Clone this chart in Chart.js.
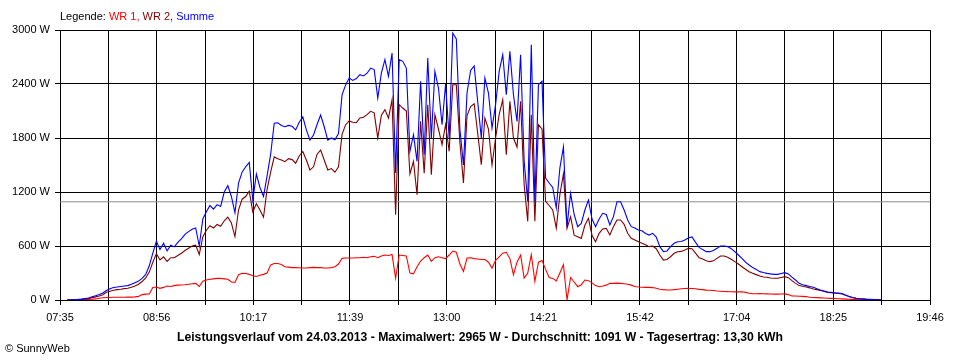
<!DOCTYPE html>
<html>
<head>
<meta charset="utf-8">
<script src="https://cdn.jsdelivr.net/npm/chart.js@4/dist/chart.umd.min.js"></script>
<style>
html,body{margin:0;padding:0;background:#fff;}
#wrap{position:relative;width:960px;height:360px;font-family:"Liberation Sans",Arial,sans-serif;color:#000;}
#c{position:absolute;left:0;top:0;}
.txt{position:absolute;font-size:11px;line-height:13px;white-space:nowrap;}
#legend{left:60px;top:10px;}
#title{left:0;width:960px;top:330px;text-align:center;font-weight:bold;font-size:12.2px;line-height:14px;}
#copy{left:5px;top:342px;}
</style>
</head>
<body>
<div id="wrap">
<canvas id="c" width="960" height="360"></canvas>
<div id="legend" class="txt">Legende: <span style="color:#ff0000">WR 1,</span> <span style="color:#800000">WR 2,</span> <span style="color:#0000ff">Summe</span></div>
<div id="title" class="txt">Leistungsverlauf vom 24.03.2013 - Maximalwert: 2965 W - Durchschnitt: 1091 W - Tagesertrag: 13,30 kWh</div>
<div id="copy" class="txt">© SunnyWeb</div>
</div>
<script>
// ---- data ----
const xTickLabels = ['07:35','08:56','10:17','11:39','13:00','14:21','15:42','17:04','18:25','19:46'];
const yTickValues = [0, 600, 1200, 1800, 2400, 3000];
const sampleStart = '07:41';
const sampleStepMinutes = 3;
const averageValue = 1091;

const summe = [
0,3,5,
7,10,15,22,35,48,60,78,105,125,
138,145,150,155,160,175,193,210,240,285,
380,520,655,560,630,545,610,590,640,680,
730,760,785,800,600,900,980,1050,1010,1060,
1040,1200,1270,1150,970,1300,1420,1480,1530,1110,
1400,1250,1150,1380,1620,1965,1970,1940,1925,1940,
1930,1890,1975,2036,1890,1777,1833,1950,2055,1925,
1777,1800,1780,1850,2280,2390,2466,2440,2460,2503,
2490,2520,2577,2560,2244,2520,2670,2485,2744,1410,
2670,2652,2577,1650,1837,1540,2430,1615,2688,1800,
2540,2355,1948,2400,1800,2966,2900,1900,1500,2300,
2550,2600,2200,1800,2466,2300,1910,2170,2540,2726,
2281,2763,2281,1985,2726,1540,1096,2837,1096,2392,
2430,1355,1300,1250,1022,1466,1700,815,1185,950,
815,850,1000,1111,900,815,900,963,950,833,
926,1092,1092,1000,889,815,800,778,770,740,
722,741,700,593,537,545,593,630,648,650,
667,690,700,640,585,560,537,537,550,574,
600,600,593,570,537,500,463,420,389,360,
340,315,305,296,290,285,285,295,304,290,
255,222,185,170,160,150,141,125,111,100,
89,85,80,76,72,55,40,27,20,15,
12,8,7,6,5,0
];

const wr2 = [
0,2,4,
5,8,12,17,26,35,44,58,85,98,
108,115,120,126,130,142,156,175,205,245,
310,420,515,445,480,430,470,470,495,520,
550,575,600,610,505,700,775,825,800,840,
820,880,920,855,705,1000,1120,1150,1210,980,
1070,1000,920,1230,1420,1590,1570,1555,1537,1570,
1560,1520,1600,1650,1555,1444,1480,1620,1666,1555,
1444,1460,1420,1480,1840,1948,1990,1975,1970,2022,
2030,2060,2096,2080,1800,2050,2115,2022,2226,948,
2170,2133,2100,1400,1540,1170,1985,1410,2170,1393,
2059,1900,1726,1950,1652,2392,2392,1750,1300,2050,
2150,2180,1850,1504,2022,1900,1500,1800,2059,2226,
1615,2207,1800,1700,2207,1281,874,2059,874,1948,
1900,1096,1050,1000,800,1170,1400,796,926,720,
704,685,830,907,720,648,740,790,796,722,
815,889,889,840,741,685,667,648,630,615,
593,600,570,500,444,450,481,519,537,540,
556,574,570,520,470,455,437,426,435,463,
489,489,475,452,426,400,370,341,315,296,
282,267,255,252,245,241,241,250,259,248,
215,185,160,152,145,135,122,115,105,95,
85,80,76,72,68,52,38,25,18,13,
10,7,6,5,3,0
];

const wr1 = [
0,0,0,
3,4,5,7,8,12,20,25,28,28,
30,30,30,30,32,32,35,40,60,65,
67,140,145,130,140,155,150,160,165,167,
170,175,180,185,150,210,222,230,235,240,
240,235,230,200,195,280,296,295,285,270,
262,275,285,300,390,405,405,395,370,365,
360,360,358,355,355,360,362,360,360,355,
355,360,370,400,463,466,466,466,470,470,
475,470,480,485,470,490,500,495,505,244,
500,495,490,300,290,370,433,470,500,430,
470,480,470,460,500,544,530,400,318,466,
470,460,455,450,450,420,355,440,480,520,
530,460,281,420,500,244,300,503,207,420,
440,340,250,240,211,300,392,0,250,200,
148,170,222,215,190,160,148,155,165,185,
185,188,185,180,175,165,150,145,141,140,
140,138,130,120,115,112,111,115,120,125,
128,130,128,125,118,115,110,108,105,100,
98,95,93,92,90,90,92,85,75,70,
70,72,70,68,66,65,65,66,68,60,
45,44,42,40,38,30,28,26,24,22,
20,18,16,14,12,10,8,6,5,3,
0,0,0,0,0,0
];

// ---- helpers ----
function toMin(s){const p=s.split(':');return (+p[0])*60+(+p[1]);}
const xMin = toMin(xTickLabels[0]);
const xMax = toMin(xTickLabels[xTickLabels.length-1]);
const t0 = toMin(sampleStart);
function series(arr){return arr.map((v,i)=>({x:t0+i*sampleStepMinutes,y:v}));}

const FONT = {family:'"Liberation Sans", Arial, sans-serif', size:11};

new Chart(document.getElementById('c'), {
  type:'line',
  data:{
    datasets:[
      {label:'Summe', data:series(summe), borderColor:'#0000ff', borderWidth:1.1, pointRadius:0, fill:false, tension:0},
      {label:'WR 2', data:series(wr2), borderColor:'#800000', borderWidth:1.1, pointRadius:0, fill:false, tension:0},
      {label:'WR 1', data:series(wr1), borderColor:'#ff0000', borderWidth:1.1, pointRadius:0, fill:false, tension:0},
      {label:'Durchschnitt', data:[{x:xMin,y:averageValue},{x:xMax,y:averageValue}], borderColor:'#8c8c8c', borderWidth:1, pointRadius:0, fill:false}
    ]
  },
  options:{
    responsive:false,
    animation:false,
    events:[],
    layout:{padding:{top:30,right:30,left:0,bottom:0}},
    plugins:{legend:{display:false}, tooltip:{enabled:false}, title:{display:false}},
    scales:{
      x:{
        type:'linear', min:xMin, max:xMax,
        afterBuildTicks:(s)=>{
          const n=(xTickLabels.length-1)*2;
          const t=[];
          for(let i=0;i<=n;i++){t.push({value:xMin+(xMax-xMin)*i/n});}
          s.ticks=t;
        },
        afterFit:(s)=>{s.height=60;},
        grid:{color:'#000', lineWidth:1, tickLength:5, drawTicks:true},
        border:{color:'#000', width:1},
        ticks:{autoSkip:false, maxRotation:0, minRotation:0, color:'#000', font:FONT, padding:6,
          callback:(v,i)=> (i%2===0 ? xTickLabels[i/2] : '')}
      },
      y:{
        min:0, max:3000,
        afterBuildTicks:(s)=>{s.ticks=yTickValues.map(v=>({value:v}));},
        afterFit:(s)=>{s.width=60;},
        grid:{color:'#000', lineWidth:1, tickLength:5, drawTicks:true},
        border:{color:'#000', width:1},
        ticks:{color:'#000', font:FONT, padding:5, callback:(v)=> v+' W'}
      }
    }
  }
});
</script>
</body>
</html>
